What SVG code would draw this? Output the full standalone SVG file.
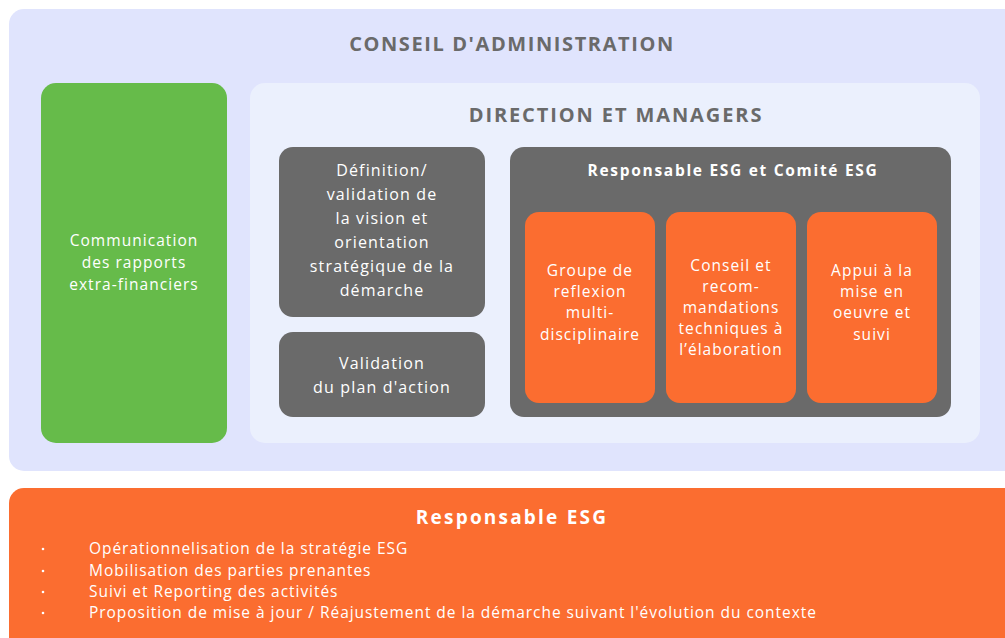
<svg xmlns="http://www.w3.org/2000/svg" width="1005" height="638" viewBox="0 0 1005 638">
<style>
.t{font-family:"Open Sans","Liberation Sans",sans-serif;text-anchor:middle}
.w{fill:#ffffff}
.g{fill:#6a6a6a}
.b{font-weight:700}
.r{font-size:16px;letter-spacing:1.15px}
.s{font-size:15.5px;letter-spacing:1.05px}
.gray{fill:#6a6a6a}
.org{fill:#fb6d30}
.bl{font-family:"Open Sans","Liberation Sans",sans-serif;font-size:15.5px;letter-spacing:0.95px;fill:#ffffff}
</style>
<rect width="1005" height="638" fill="#ffffff"/>
<g id="conseil">
<rect x="9" y="9" width="1010" height="462" rx="15" fill="#e0e4fd"/>
<text class="t g b" x="512" y="51" font-size="20" letter-spacing="1.6">CONSEIL D'ADMINISTRATION</text>
</g>
<g id="communication">
<rect x="41" y="83" width="186" height="360" rx="15" fill="#66bb4a"/>
<text class="t w s" x="134" y="246">Communication</text>
<text class="t w s" x="134" y="268">des rapports</text>
<text class="t w s" x="134" y="290">extra-financiers</text>
</g>
<g id="direction">
<rect x="250" y="83" width="730" height="360" rx="15" fill="#ebf0fd"/>
<text class="t g b" x="616" y="122" font-size="20" letter-spacing="1.9">DIRECTION ET MANAGERS</text>
</g>
<g id="definition">
<rect class="gray" x="279" y="147" width="206" height="170" rx="14"/>
<text class="t w r" x="382" y="176">Définition/</text>
<text class="t w r" x="382" y="200">validation de</text>
<text class="t w r" x="382" y="224">la vision et</text>
<text class="t w r" x="382" y="248">orientation</text>
<text class="t w r" x="382" y="272">stratégique de la</text>
<text class="t w r" x="382" y="296">démarche</text>
</g>
<g id="validation">
<rect class="gray" x="279" y="332" width="206" height="85" rx="14"/>
<text class="t w r" x="382" y="369">Validation</text>
<text class="t w r" x="382" y="393">du plan d'action</text>
</g>
<g id="comite">
<rect class="gray" x="510" y="147" width="441" height="270" rx="14"/>
<text class="t w b" x="733" y="176" font-size="15.5" letter-spacing="1.7">Responsable ESG et Comité ESG</text>
</g>
<g id="groupe">
<rect class="org" x="525" y="212" width="130" height="191" rx="14"/>
<text class="t w s" x="590" y="276">Groupe de</text>
<text class="t w s" x="590" y="297">reflexion</text>
<text class="t w s" x="590" y="318">multi-</text>
<text class="t w s" x="590" y="340">disciplinaire</text>
</g>
<g id="conseil-reco">
<rect class="org" x="666" y="212" width="130" height="191" rx="14"/>
<text class="t w s" x="731" y="271">Conseil et</text>
<text class="t w s" x="731" y="292">recom-</text>
<text class="t w s" x="731" y="313">mandations</text>
<text class="t w s" x="731" y="334">techniques à</text>
<text class="t w s" x="731" y="355">l’élaboration</text>
</g>
<g id="appui">
<rect class="org" x="807" y="212" width="130" height="191" rx="14"/>
<text class="t w s" x="872" y="276">Appui à la</text>
<text class="t w s" x="872" y="297">mise en</text>
<text class="t w s" x="872" y="318">oeuvre et</text>
<text class="t w s" x="872" y="340">suivi</text>
</g>
<g id="responsable">
<rect class="org" x="9" y="488" width="1010" height="170" rx="15"/>
<text class="t w b" x="512" y="524" font-size="19" letter-spacing="2.2">Responsable ESG</text>
<g fill="#ffffff">
<circle cx="43" cy="549" r="1.3"/>
<circle cx="43" cy="571" r="1.3"/>
<circle cx="43" cy="592" r="1.3"/>
<circle cx="43" cy="613" r="1.3"/>
</g>
<text class="bl" x="89" y="554">Opérationnelisation de la stratégie ESG</text>
<text class="bl" x="89" y="576">Mobilisation des parties prenantes</text>
<text class="bl" x="89" y="597">Suivi et Reporting des activités</text>
<text class="bl" x="89" y="618">Proposition de mise à jour / Réajustement de la démarche suivant l'évolution du contexte</text>
</g>
<g id="connectors"/>
</svg>
